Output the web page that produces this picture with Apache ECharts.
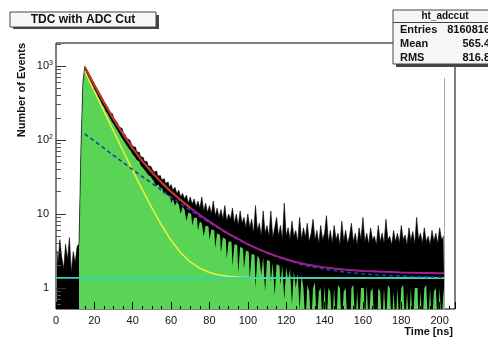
<!DOCTYPE html>
<html><head><meta charset="utf-8">
<script src="https://cdn.jsdelivr.net/npm/echarts@6/dist/echarts.min.js"></script>
<style>html,body{margin:0;padding:0;background:#fff;}#c{width:488px;height:339px;}</style>
</head><body><div id="c"></div>
<script>
// ---- histogram bins (1 ns wide, starting at 0 ns) ----
const binStart = 0;
const binWidth = 1;
// all events (black)
const allEvents = [
 3.2, 2.1, 4.5, 2.6, 1.8, 3.9, 2.4, 4.8, 1.6, 3.1, 2.2, 3.6,
 4.0, 80, 600, 990,
 870, 790, 700, 640, 575, 500, 465, 410, 372, 330, 300, 276, 240, 226, 200,
 185, 170, 150, 143, 126, 118, 105, 100, 92, 82, 80, 70, 68, 60, 58, 52, 51, 45, 44, 41,
 37, 38, 33, 33, 29, 30, 26, 27, 23, 25, 21, 23, 19, 21, 17, 19, 16, 18, 14, 17,
 13.5, 16, 12.5, 15, 12, 17, 11, 14, 10.5, 13, 10, 15, 9.5, 12, 9, 11.5, 8.5, 13, 8, 10, 8.5, 12, 7.5, 10, 7, 11, 7.5, 9, 6.5, 10,
 6.5, 8.5, 5.5, 13, 6, 7.5, 5, 11, 5.5, 7, 5, 11, 4.8, 6.5, 9, 5, 7, 4.5, 14, 5, 6.5, 4.5, 8, 5, 6, 4.2, 9, 4.5, 6.5, 4.8,
 7.5, 4.2, 5.5, 8.5, 4.5, 6, 4, 7, 4.5, 5.5, 9.5, 4.2, 6, 4, 7, 4.5, 5.5, 3.8, 8, 4.3, 6, 4, 5, 7.5, 4.2, 5.5, 3.8, 6.5, 4.5, 9,
 4.2, 5.5, 3.9, 6.5, 4.5, 5, 3.8, 7, 4.2, 5.5, 4, 8.5, 4.5, 5, 3.8, 6, 4.2, 5.5, 4, 7, 4.5, 5.2, 3.8, 6.5, 4.4, 5.8, 3.9, 9, 4.5, 5.5,
 4, 6.5, 4.2, 5, 3.8, 6, 4.3, 5.5, 4, 6.5, 4.5, 5
];
// events with ADC cut (green)
const cutEvents = [
 null, null, null, null, null, null, null, null, null, null, null, null,
 3.5, 70, 560, 930,
 760, 690, 610, 550, 480, 440, 385, 350, 305, 280, 245, 225, 200, 180, 165,
 148, 136, 122, 110, 100, 92, 84, 76, 71, 64, 60, 54, 51, 46, 43, 40, 37, 34, 32, 30,
 28, 24, 25, 23, 22, 19, 19.5, 18, 17.5, 14, 16, 13, 14.5, 13.5, 10, 12.5, 11.5, 8, 10.5, 10,
 7, 9, 8.8, 6, 8, 7.5, 5, 7, 6.8, 4.5, 6.2, 6, 3.5, 5.5, 5.2, 3, 4.8, 4.6, 2.5, 4.3, 4.2, 2, 3.9, 3.8, 1.6, 3.6, 3.4, 1.8, 3.2, 3.1,
 1.3, 2.9, 2.8, 1.0, 2.7, 2.5, 1.5, 2.6, 0.9, 2.4, 2.3, 1.2, 2.2, 0.8, 2.1, 2.0, 1.1, 2.0, 0.7, 1.9, 1.3, 1.8, 0.6, 1.7, 1.0, 1.6, 0.5, 1.5, 1.0, 0.3,
 1.1, 0.9, 0.3, 1.0, 1.2, 0.3, 0.9, 1.0, 0.3, 1.1, 0.3, 1.0, 0.9, 0.3, 1.0, 0.3, 1.1, 1.0, 0.3, 0.9, 1.0, 0.3, 0.3, 1.0, 1.1, 0.3, 0.9, 0.3, 1.0, 1.0,
 0.3, 1.1, 0.3, 0.9, 1.0, 0.3, 0.3, 1.0, 0.9, 0.3, 1.0, 0.3, 1.1, 1.0, 0.3, 0.9, 0.3, 1.0, 0.3, 1.0, 1.1, 0.3, 0.9, 0.3, 1.0, 0.3, 1.0, 1.0, 0.3, 0.9,
 0.3, 1.0, 1.1, 0.3, 1.0, 0.3, 0.9, 1.0, 0.3, 1.0, 0.3, 1.0
];
// ---- fit curves ----
const fitTimes = [15,20,25,30,35,40,45,50,55,60,65,70,75,80,85,90,95,100,105,110,115,120,125,130,135,140,145,150,155,160,165,170,175,180,185,190,195,200,202.5];
const totalFit = [971,552,321,192,120,77,52,36.7,26.6,20,15.4,12.1,9.7,7.9,6.5,5.4,4.6,3.9,3.4,3.0,2.7,2.45,2.25,2.1,1.98,1.9,1.83,1.78,1.74,1.7,1.68,1.66,1.64,1.62,1.61,1.6,1.59,1.58,1.58];
const fastFit = [851,456,245,132,71,38.7,21.4,12.1,7.1,4.4,3.0,2.25,1.84,1.62,1.5,1.44,1.41,1.39,1.37,1.37,1.37,1.37,1.37,1.37,1.37,1.37,1.37,1.37,1.37,1.37,1.37,1.37,1.37,1.37,1.37,1.37,1.37,1.37,1.37];
const slowFit = [121,97,77.6,62,49.7,39.9,32,26,20.9,16.9,13.8,11.2,9.2,7.6,6.4,5.3,4.5,3.9,3.4,3.0,2.65,2.4,2.2,2.0,1.9,1.8,1.72,1.65,1.6,1.55,1.52,1.49,1.47,1.45,1.43,1.42,1.41,1.4,1.4];
const fitRangeCount = 12; // red part of total fit: 15..70 ns
const constTimes = [0, 202.5];
const constLevel = [1.37, 1.37];
// ---- axis ----
const xTickValues = [0,20,40,60,80,100,120,140,160,180,200];
const yTickLabels = {0:'1{sp| }', 1:'10{sp| }', 2:'10{s|2}', 3:'10{s|3}'};
const yMinorTicks = [0.6,0.7,0.8,0.9,2,3,4,5,6,7,8,9,20,30,40,50,60,70,80,90,200,300,400,500,600,700,800,900,2000];
// ---- stats ----
const statsTitle = 'ht_adccut';
const statsRows = [['Entries','8160816'],['Mean','565.4'],['RMS','816.8']];

const binPairs = ys => ys.map((y,i)=>[binStart + (i+0.5)*binWidth, y]);
const toPairs = (xs, ys) => xs.map((x,i)=>[x, ys[i]]);
const histEnd = binStart + allEvents.length*binWidth;

const F = '"Liberation Sans", Arial, sans-serif';
const chart = echarts.init(document.getElementById('c'), null, {renderer:'canvas'});
const graphics = [
  {type:'rect', shape:{x:13,y:15,width:146,height:14}, style:{fill:'#444'}, z:10},
  {type:'rect', shape:{x:10,y:12,width:146,height:15}, style:{fill:'#f7f7f7', stroke:'#444', lineWidth:1}, z:11},
  {type:'text', x:83, y:19.5, style:{text:'TDC with ADC Cut', font:'bold 12px '+F, fill:'#111', textAlign:'center', textVerticalAlign:'middle'}, z:12},
  {type:'rect', shape:{x:396,y:13,width:110,height:54}, style:{fill:'#444'}, z:10},
  {type:'rect', shape:{x:393,y:10,width:110,height:54}, style:{fill:'#f6f6f6', stroke:'#444', lineWidth:1}, z:11},
  {type:'line', shape:{x1:393,y1:22.5,x2:503,y2:22.5}, style:{stroke:'#444', lineWidth:1}, z:12},
  {type:'text', x:445, y:16.5, style:{text:statsTitle, font:'bold 10px '+F, fill:'#111', textAlign:'center', textVerticalAlign:'middle'}, z:12},
  {type:'text', x:22, y:43, rotation:Math.PI/2, style:{text:'Number of Events', font:'bold 11px '+F, fill:'#111', textAlign:'right', textVerticalAlign:'middle'}, z:12},
  {type:'text', x:453, y:332, style:{text:'Time [ns]', font:'bold 11px '+F, fill:'#111', textAlign:'right', textVerticalAlign:'middle'}, z:12}
];
statsRows.forEach((r,k)=>{
  const y = 29.5 + k*14;
  graphics.push({type:'text', x:400, y:y, style:{text:r[0], font:'bold 11px '+F, fill:'#111', textAlign:'left', textVerticalAlign:'middle'}, z:12});
  graphics.push({type:'text', x:490, y:y, style:{text:r[1], font:'bold 11px '+F, fill:'#111', textAlign:'right', textVerticalAlign:'middle'}, z:12});
});

chart.setOption({
  animation:false,
  backgroundColor:'#fff',
  grid:{left:56, top:43, right:33, bottom:30, show:true, borderColor:'#000', borderWidth:1, backgroundColor:'#fff'},
  xAxis:{type:'value', min:0, max:208, interval:20, z:3,
    axisLine:{show:false},
    axisTick:{inside:true, length:7, lineStyle:{color:'#000', width:1}},
    minorTick:{show:true, splitNumber:4, length:3, lineStyle:{color:'#000', width:1}},
    splitLine:{show:false},
    axisLabel:{showMaxLabel:false, fontSize:11, color:'#111', margin:6, fontFamily:F,
      formatter: v => xTickValues.indexOf(Math.round(v))>=0 ? String(Math.round(v)) : ''}},
  yAxis:[
   {type:'log', logBase:10, min:0.52, max:2050, z:3,
    axisLine:{show:false},
    axisTick:{inside:true, length:10, lineStyle:{color:'#333', width:1}},
    splitLine:{show:false},
    axisLabel:{showMinLabel:false, showMaxLabel:false, fontSize:11, color:'#111', margin:3, fontFamily:F,
      formatter: v => { const e = Math.round(Math.log10(v)); return (Math.abs(Math.log10(v)-e)<0.01 && yTickLabels[e]!==undefined) ? yTickLabels[e] : ''; },
      rich:{s:{fontSize:7, verticalAlign:'top', padding:[0,0,6,0], color:'#111', fontFamily:F},
            sp:{fontSize:7, width:4}}}},
   {type:'log', logBase:10, min:0.52, max:2050, position:'left', offset:0, z:3,
    axisLine:{show:false}, splitLine:{show:false}, axisLabel:{show:false},
    axisTick:{inside:true, length:5, customValues:yMinorTicks, lineStyle:{color:'#555', width:1}}}
  ],
  series:[
    {name:'all', type:'line', data:binPairs(allEvents), step:'middle', symbol:'none',
     lineStyle:{color:'#000', width:0.6}, areaStyle:{color:'#000', opacity:1, origin:'start'},
     markLine:{silent:true, symbol:'none', label:{show:false}, lineStyle:{color:'#aaa', width:1, type:'solid'},
       data:[[{coord:[histEnd-0.4, 0.52]},{coord:[histEnd-0.4, 690]}]]}},
    {name:'cut', type:'line', data:binPairs(cutEvents), step:'middle', symbol:'none',
     lineStyle:{color:'#59d454', width:0}, areaStyle:{color:'#59d454', opacity:1, origin:'start'}},
    {name:'fast', type:'line', data:toPairs(fitTimes, fastFit), symbol:'none', lineStyle:{color:'#eef03a', width:1.5}},
    {name:'const', type:'line', data:toPairs(constTimes, constLevel), symbol:'none', lineStyle:{color:'#35d0c4', width:1.6}},
    {name:'slow', type:'line', data:toPairs(fitTimes, slowFit), symbol:'none', lineStyle:{color:'#1f3fb0', width:1.6, type:[4,3]}},
    {name:'total', type:'line', data:toPairs(fitTimes, totalFit), symbol:'none', lineStyle:{color:'#a0208c', width:2}},
    {name:'fitRange', type:'line', data:toPairs(fitTimes.slice(0,fitRangeCount), totalFit.slice(0,fitRangeCount)), symbol:'none', lineStyle:{color:'#c0381e', width:2}}
  ],
  graphic: graphics
});
</script></body></html>
